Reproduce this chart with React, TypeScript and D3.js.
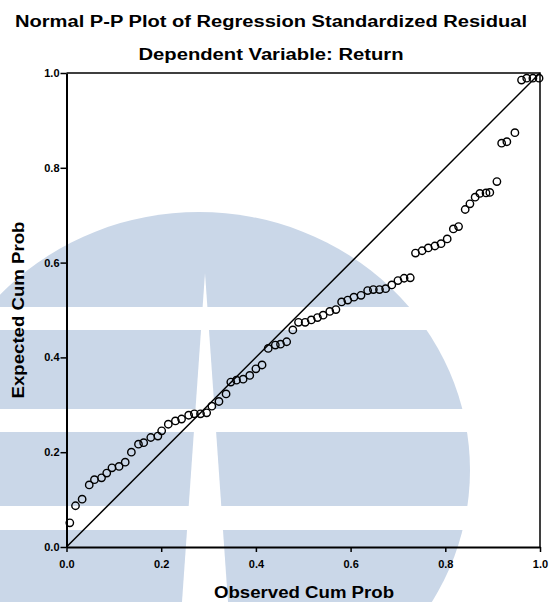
import React, { Component } from 'react';
import * as d3 from 'd3';

// observed vs expected cumulative probabilities
const observedCumProb = [
  0.007, 0.019, 0.033, 0.048, 0.059, 0.074, 0.085, 0.096, 0.111, 0.124,
  0.137, 0.152, 0.163, 0.178, 0.193, 0.201, 0.215, 0.23, 0.243, 0.258,
  0.27, 0.283, 0.296, 0.307, 0.322, 0.337, 0.347, 0.359, 0.373, 0.387,
  0.4, 0.413, 0.426, 0.441, 0.452, 0.465, 0.478, 0.49, 0.504, 0.517,
  0.53, 0.542, 0.556, 0.569, 0.581, 0.594, 0.607, 0.622, 0.636, 0.648,
  0.661, 0.674, 0.687, 0.7, 0.713, 0.726, 0.737, 0.751, 0.764, 0.778,
  0.791, 0.804, 0.817, 0.828, 0.842, 0.852, 0.863, 0.873, 0.886, 0.894,
  0.909, 0.919, 0.93, 0.947, 0.961, 0.972, 0.985, 0.998,
];
const expectedCumProb = [
  0.051, 0.087, 0.101, 0.131, 0.142, 0.146, 0.156, 0.167, 0.17, 0.179,
  0.2, 0.217, 0.22, 0.231, 0.234, 0.245, 0.259, 0.266, 0.27, 0.278,
  0.281, 0.281, 0.283, 0.297, 0.307, 0.323, 0.348, 0.352, 0.354, 0.362,
  0.376, 0.384, 0.419, 0.426, 0.428, 0.433, 0.458, 0.474, 0.474, 0.479,
  0.484, 0.489, 0.497, 0.501, 0.517, 0.521, 0.527, 0.531, 0.541, 0.543,
  0.543, 0.545, 0.553, 0.562, 0.567, 0.568, 0.62, 0.625, 0.631, 0.635,
  0.64, 0.65, 0.671, 0.676, 0.712, 0.724, 0.738, 0.746, 0.747, 0.748,
  0.771, 0.852, 0.855, 0.874, 0.985, 0.989, 0.989, 0.989,
];
const tickValues = [0, 0.2, 0.4, 0.6, 0.8, 1.0];
const titleText = 'Normal P-P Plot of Regression Standardized Residual';
const subtitleText = 'Dependent Variable: Return';
const xTitle = 'Observed Cum Prob';
const yTitle = 'Expected Cum Prob';

const FONT = "'Liberation Sans', Arial, sans-serif";

class PPPlot extends Component {
  container: HTMLDivElement | null = null;

  componentDidMount() {
    d3.select('body').style('margin', '0');
    const root = d3.select(this.container);
    root.selectAll('*').remove();

    const fullW = 549,
      fullH = 602;
    var margin = { top: 73, right: 9, bottom: 55, left: 66.5 },
      width = fullW - margin.left - margin.right,
      height = fullH - margin.top - margin.bottom;

    const svg = root
      .append('svg')
      .attr('width', fullW)
      .attr('height', fullH)
      .style('display', 'block')
      .style('background', '#fff');

    // faint logo watermark behind the chart
    const wm = svg.append('g');
    wm.append('ellipse')
      .attr('cx', 199)
      .attr('cy', 470)
      .attr('rx', 271)
      .attr('ry', 258)
      .attr('fill', '#cad7e8');
    [
      [307, 330],
      [409, 432],
      [506, 530],
    ].forEach(([y0, y1]) => {
      wm.append('rect')
        .attr('x', 0)
        .attr('y', y0)
        .attr('width', fullW)
        .attr('height', y1 - y0)
        .attr('fill', '#fff');
    });
    wm.append('polygon')
      .attr('points', '205,273 228,602 182,602')
      .attr('fill', '#fff');

    const g = svg
      .append('g')
      .attr('transform', 'translate(' + margin.left + ',' + margin.top + ')');

    var x = d3.scaleLinear().domain([0, 1]).range([0, width]);
    var y = d3.scaleLinear().domain([0, 1]).range([height, 0]);

    // frame (top + right)
    g.append('path')
      .attr('d', `M0,${y(1)}H${x(1)}V${y(0)}`)
      .attr('fill', 'none')
      .attr('stroke', '#000')
      .attr('stroke-width', 1.5);

    // axes
    const yAxis = g
      .append('g')
      .call(
        d3
          .axisLeft(y)
          .tickValues(tickValues)
          .tickFormat(d3.format('.1f'))
          .tickSizeInner(6)
          .tickSizeOuter(0)
          .tickPadding(1)
      );
    const xAxis = g
      .append('g')
      .attr('transform', 'translate(0,' + height + ')')
      .call(
        d3
          .axisBottom(x)
          .tickValues(tickValues)
          .tickFormat(d3.format('.1f'))
          .tickSizeInner(5)
          .tickSizeOuter(0)
          .tickPadding(8)
      );
    [xAxis, yAxis].forEach((ax) => {
      ax.select('.domain').attr('stroke', '#000').attr('stroke-width', 2);
      ax.selectAll('.tick line').attr('stroke', '#000').attr('stroke-width', 1.5);
      ax.selectAll('.tick text')
        .attr('fill', '#000')
        .style('font-family', FONT)
        .style('font-size', '11px')
        .style('font-weight', 'bold');
    });

    // reference diagonal
    g.append('line')
      .attr('x1', x(0))
      .attr('y1', y(0))
      .attr('x2', x(1))
      .attr('y2', y(1))
      .attr('stroke', '#000')
      .attr('stroke-width', 1.5);

    // points
    g.selectAll('circle.pt')
      .data(observedCumProb)
      .enter()
      .append('circle')
      .attr('class', 'pt')
      .attr('cx', (d) => x(d))
      .attr('cy', (d, i) => y(expectedCumProb[i]))
      .attr('r', 3.7)
      .attr('fill', 'none')
      .attr('stroke', '#000')
      .attr('stroke-width', 1.4);

    // titles
    const addText = (txt, tx, ty, len, rot = 0) =>
      svg
        .append('text')
        .attr('transform', `translate(${tx},${ty})` + (rot ? ` rotate(${rot})` : ''))
        .attr('text-anchor', 'middle')
        .attr('textLength', len)
        .attr('lengthAdjust', 'spacingAndGlyphs')
        .style('font-family', FONT)
        .style('font-size', '16px')
        .style('font-weight', 'bold')
        .attr('fill', '#000')
        .text(txt);

    addText(titleText, 271, 27, 512);
    addText(subtitleText, 271, 60, 265);
    addText(xTitle, 304, 598, 180);
    addText(yTitle, 24, 310, 177, -90);
  }

  render() {
    return <div ref={(el) => (this.container = el)}></div>;
  }
}

export default function App() {
  return <PPPlot />;
}
